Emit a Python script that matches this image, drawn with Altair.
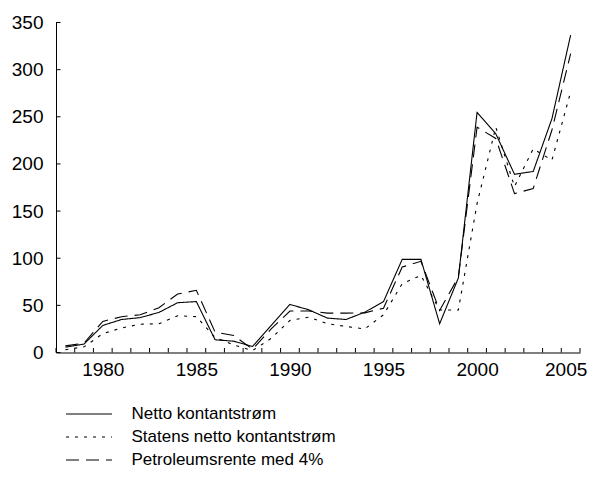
import altair as alt
import pandas as pd

years = list(range(1978, 2006))
netto = [5.6, 9, 28.7, 35, 37, 42.5, 52.8, 54, 13.5, 12, 6.4, 28.7, 51, 45.3,
         36.5, 35, 42.8, 54, 98.8, 98.8, 30.5, 79, 254.6, 232, 189, 192, 248, 336.7]
statens = [3, 6, 20, 26, 30, 30.5, 39, 38, 16, 8, 2, 15, 34, 37.5,
           30.5, 27.6, 25, 40, 73, 81.8, 45, 45, 158, 239, 176, 216, 204, 276.5]
petro = [7, 10, 33, 38, 40, 47.5, 62, 66, 21.6, 18, 3.5, 25, 44, 44,
         41.8, 41.8, 42, 47, 90.6, 96.7, 44.6, 80, 239, 227, 168.5, 174, 236, 317]

names = ["Netto kontantstrøm", "Statens netto kontantstrøm", "Petroleumsrente med 4%"]
x_labels = [1980, 1985, 1990, 1995, 2000, 2005]
y_ticks = [0, 50, 100, 150, 200, 250, 300, 350]
boundaries = [y - 0.5 for y in years] + [years[-1] + 0.5]

rows = []
for name, vals in zip(names, [netto, statens, petro]):
    for yr, v in zip(years, vals):
        rows.append({"year": yr, "value": v, "series": name})
df = pd.DataFrame(rows)

dash = alt.StrokeDash("series:N",
                      scale=alt.Scale(domain=names, range=[[1, 0], [3, 6], [13, 7]]),
                      legend=None)

xscale = alt.Scale(domain=[boundaries[0], boundaries[-1]], nice=False, zero=False)
yscale = alt.Scale(domain=[0, 350], nice=False)

lines = alt.Chart(df).mark_line(color="black", strokeWidth=1.1).encode(
    x=alt.X("year:Q", scale=xscale,
            axis=alt.Axis(values=x_labels, format="d", title=None, ticks=False, tickSize=0,
                          grid=False, labelPadding=8, domainColor="black", labelFlush=False,
                          labelOffset={"condition": {"test": "datum.value == 2005", "value": -5},
                                       "value": 0})),
    y=alt.Y("value:Q", scale=yscale,
            axis=alt.Axis(values=y_ticks, title=None, ticks=False, tickSize=0, grid=False,
                          labelPadding=13, domainColor="black")),
    strokeDash=dash,
    detail="series:N",
)

xt = alt.Chart(pd.DataFrame({"b": boundaries})).mark_rule(color="black", strokeWidth=1).encode(
    x=alt.X("b:Q", scale=xscale),
    y=alt.value(330), y2=alt.value(325.5),
)
yt = alt.Chart(pd.DataFrame({"t": y_ticks})).mark_rule(color="black", strokeWidth=1).encode(
    y=alt.Y("t:Q", scale=yscale),
    x=alt.value(0), x2=alt.value(4.5),
)

main = alt.layer(lines, xt, yt)

leg_df = pd.DataFrame({"series": names})
leg_y = alt.Y("series:N", scale=alt.Scale(type="point", domain=names, range=[391.5, 437.5], padding=0),
              axis=None)
leg_rule = alt.Chart(leg_df).mark_rule(color="black", strokeWidth=1.1).encode(
    x=alt.value(10), x2=alt.value(56), y=leg_y, strokeDash=dash,
)
leg_text = alt.Chart(leg_df).mark_text(align="left", baseline="middle", fontSize=17,
                                       font="Liberation Sans", color="black").encode(
    x=alt.value(75.5), y=leg_y, text="series:N",
)
legend = alt.layer(leg_rule, leg_text)

chart = alt.layer(main, legend).resolve_scale(y="independent").properties(
    width=524, height=330,
    padding={"left": 48, "top": 14.5, "right": 7, "bottom": 120},
    autosize="none",
).configure_view(stroke=None).configure_axis(
    labelFont="Liberation Sans", labelFontSize=19, labelColor="black",
    domainWidth=1,
)

chart.save("out.html", embed_options={"renderer": "svg", "actions": False})
